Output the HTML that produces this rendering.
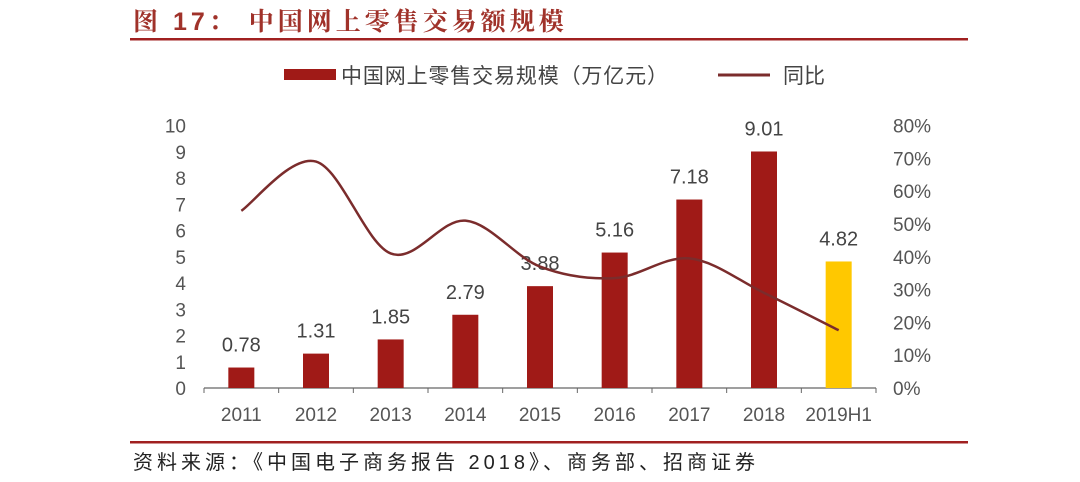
<!DOCTYPE html>
<html><head><meta charset="utf-8"><style>
body{margin:0;background:#fff;}
svg{display:block;font-family:"Liberation Sans","Noto Sans CJK SC",sans-serif;}
</style></head><body>
<svg id="c" width="1080" height="482" viewBox="0 0 1080 482">
<text x="133" y="30" font-size="25" font-weight="bold" fill="#a0322a" letter-spacing="4" font-family="Liberation Sans,Noto Serif CJK SC,sans-serif">图 17：  中国网上零售交易额规模</text>
<rect x="130" y="38" width="838" height="2.5" fill="#a02020"/>
<g>
<rect x="284" y="69" width="52" height="11" fill="#a01a17"/>
<text x="341" y="83" font-size="21" fill="#444" textLength="327" lengthAdjust="spacing">中国网上零售交易规模（万亿元）</text>
<line x1="718" y1="75" x2="770" y2="75" stroke="#7b2c2c" stroke-width="3"/>
<text x="783" y="83" font-size="21" fill="#444">同比</text>
</g>
<g id="plot"></g>
<rect x="130" y="441" width="838" height="2.5" fill="#a02020"/>
<text x="133" y="469" font-size="20" fill="#222" textLength="622" lengthAdjust="spacing">资料来源：《中国电子商务报告 2018》、商务部、招商证券</text>
</svg>
<script>
const categories=["2011","2012","2013","2014","2015","2016","2017","2018","2019H1"];
const salesValues=[0.78,1.31,1.85,2.79,3.88,5.16,7.18,9.01,4.82];
const growthValues=[54,69,41,51,37,33.5,39.5,29,17.6];
const leftTicks=[0,1,2,3,4,5,6,7,8,9,10];
const rightTicks=[0,10,20,30,40,50,60,70,80];
const NS="http://www.w3.org/2000/svg";
const g=document.getElementById('plot');
const X0=204,X1=876,Y0=388,Y1=125.5;
const step=(X1-X0)/categories.length;
const xc=i=>X0+step*(i+0.5);
const yL=v=>Y0-(v/10)*(Y0-Y1);
const yR=v=>Y0-(v/80)*(Y0-Y1);
function mk(tag,attrs,txt){const e=document.createElementNS(NS,tag);for(const k in attrs)e.setAttribute(k,attrs[k]);if(txt!==undefined)e.textContent=txt;g.appendChild(e);return e;}
leftTicks.forEach(t=>{const e=mk('text',{x:186,y:yL(t)+7,'font-size':19,fill:'#555','text-anchor':'end'},String(t));

});
rightTicks.forEach(t=>{const e=mk('text',{x:893,y:yR(t)+7,'font-size':19,fill:'#555'},t+'%');

});
const ax=mk('line',{x1:X0,y1:Y0,x2:X1,y2:Y0,stroke:'#666','stroke-width':1.2});


for(let i=0;i<=categories.length;i++){const t=mk('line',{x1:X0+step*i,y1:Y0,x2:X0+step*i,y2:Y0+5,stroke:'#666'});

}
categories.forEach((c,i)=>{
const v=salesValues[i];
const b=mk('rect',{x:xc(i)-13,y:yL(v),width:26,height:Y0-yL(v),fill:i===categories.length-1?'#ffc800':'#a01a17'});


const l=mk('text',{x:xc(i),y:yL(v)-16,'font-size':20,fill:'#444','text-anchor':'middle'},v.toFixed(2));


const xl=mk('text',{x:xc(i),y:Y0+33,'font-size':19,fill:'#555','text-anchor':'middle'},c);


});
const pts=growthValues.map((v,i)=>[xc(i),yR(v)]);
let d='M'+pts[0][0]+','+pts[0][1];
for(let i=0;i<pts.length-1;i++){const p0=pts[Math.max(0,i-1)],p1=pts[i],p2=pts[i+1],p3=pts[Math.min(pts.length-1,i+2)];
const c1=[p1[0]+(p2[0]-p0[0])/6,p1[1]+(p2[1]-p0[1])/6],c2=[p2[0]-(p3[0]-p1[0])/6,p2[1]-(p3[1]-p1[1])/6];
d+=' C'+c1+' '+c2+' '+p2;}
const ln=mk('path',{d:d,fill:'none',stroke:'#7b2c2c','stroke-width':2.5});


</script>
</body></html>
